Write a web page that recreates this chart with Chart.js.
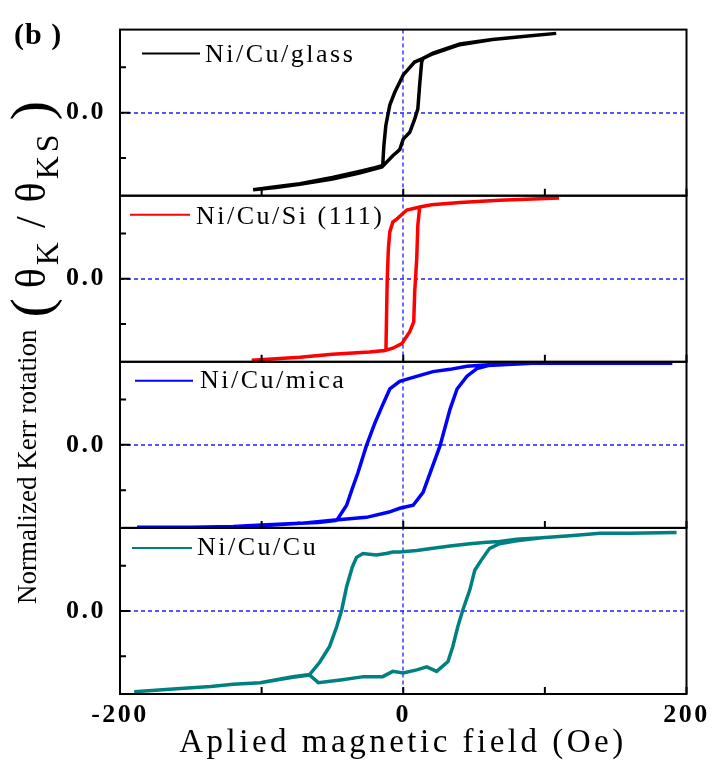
<!DOCTYPE html>
<html>
<head>
<meta charset="utf-8">
<script src="https://cdn.jsdelivr.net/npm/chart.js@4.4.1/dist/chart.umd.min.js"></script>
<style>
html, body { margin: 0; padding: 0; background: #fff; }
#wrap { width: 712px; height: 762px; }
</style>
</head>
<body>
<div id="wrap"><canvas id="kerr-chart" width="712" height="762"></canvas></div>
<script>
var glassField = [108, 90, 63, 40, 21, 14, 8, 0, -6, -9.5, -12.3, -13.7, -14.5, -20, -31, -50, -73, -90, -106,
    -90, -73, -50, -31, -15, -7.4, -2.5, 0, 4.6, 8, 10.3, 11.6, 13, 14, 21, 40, 63, 90, 108];
var glassKerr = [1.05, 1.02, 0.97, 0.90, 0.78, 0.72, 0.67, 0.50, 0.27, 0.10, -0.17, -0.44, -0.70, -0.73, -0.78, -0.86, -0.94, -0.98, -1.02,
    -0.99, -0.95, -0.88, -0.80, -0.72, -0.57, -0.49, -0.35, -0.26, -0.09, 0.05, 0.37, 0.67, 0.72, 0.79, 0.91, 0.97, 1.02, 1.05];

var siField = [110, 68, 40, 20, 11.6, 2.5, -4.6, -7.4, -9.5, -10.5, -11.3, -11.8, -12.2, -13, -24, -50, -73, -107,
    -73, -50, -24, -13, -7.4, -1, 4.6, 7.4, 8.1, 9.5, 10.3, 11.6, 20, 40, 68, 110];
var siKerr = [1.07, 1.04, 1.01, 0.98, 0.95, 0.91, 0.79, 0.75, 0.62, 0.40, 0.0, -0.50, -0.93, -0.95, -0.97, -1.0, -1.04, -1.08,
    -1.04, -1.0, -0.97, -0.95, -0.92, -0.86, -0.70, -0.57, -0.17, 0.26, 0.71, 0.95, 0.98, 1.01, 1.04, 1.07];

var micaField = [190, 160, 130, 91, 60, 45, 33, 21, 10, -2.5, -9.5, -15, -20, -26, -32, -36, -40, -47, -60, -73, -100, -120, -150, -188,
    -150, -120, -100, -73, -50, -26, -10, -2.5, 7, 14, 19, 26, 33, 38, 45, 52, 60, 91, 130, 160, 190];
var micaKerr = [1.08, 1.08, 1.08, 1.08, 1.06, 1.04, 1.00, 0.97, 0.91, 0.84, 0.74, 0.51, 0.29, -0.01, -0.37, -0.58, -0.80, -1.0, -1.03, -1.04, -1.06, -1.08, -1.09, -1.09,
    -1.09, -1.08, -1.07, -1.04, -1.0, -0.96, -0.89, -0.84, -0.80, -0.63, -0.37, -0.01, 0.47, 0.74, 0.91, 1.01, 1.05, 1.08, 1.08, 1.08, 1.08];

var cuField = [193, 160, 139, 120, 98, 80, 68, 59, 47, 33, 21, 9.5, -2.5, -7.4, -12, -19, -28.5, -33, -36, -40, -43.5, -47, -52, -59, -66, -78, -101, -120, -136, -160, -190,
    -160, -136, -120, -101, -78, -66, -60, -43, -28, -14.5, -7.4, 0, 9.5, 16.6, 23.6, 31.6, 35, 38.5, 42, 47, 50.5, 55, 61, 68, 80, 98, 120, 139, 160, 193];
var cuKerr = [1.04, 1.03, 1.03, 1.0, 0.97, 0.95, 0.92, 0.91, 0.89, 0.86, 0.83, 0.80, 0.78, 0.78, 0.76, 0.74, 0.76, 0.71, 0.58, 0.32, 0.01, -0.21, -0.47, -0.68, -0.84, -0.87, -0.95, -0.97, -1.0, -1.03, -1.07,
    -1.03, -1.0, -0.97, -0.95, -0.88, -0.85, -0.95, -0.91, -0.87, -0.87, -0.80, -0.82, -0.78, -0.74, -0.80, -0.67, -0.47, -0.21, 0.01, 0.28, 0.54, 0.67, 0.83, 0.89, 0.93, 0.97, 1.0, 1.03, 1.03, 1.04];

var sampleLabels = ['Ni/Cu/glass', 'Ni/Cu/Si (111)', 'Ni/Cu/mica', 'Ni/Cu/Cu'];
var sampleColors = ['#000000', '#ff0000', '#0000ff', '#008080'];

var xTicks = [-200, -100, 0, 100, 200];
var xTickLabels = ['-200', '', '0', '', '200'];
var yTicks = [-0.6, 0, 0.6];
var yTickLabels = ['', '0.0', ''];

var SERIF = '"Liberation Serif", "Times New Roman", serif';
var panelIds = ['y1', 'y2', 'y3', 'y4'];
var loops = [[glassField, glassKerr], [siField, siKerr], [micaField, micaKerr], [cuField, cuKerr]];

// legend spot inside each panel (offsets from the panel top)
var legendPos = [
    { x1: 142, x2: 200, ly: 24, tx: 205, ty: 32 },
    { x1: 130, x2: 190, ly: 19, tx: 196, ty: 28 },
    { x1: 135, x2: 193, ly: 19, tx: 200, ty: 26 },
    { x1: 132, x2: 192, ly: 20, tx: 197, ty: 27 }
];

function toPoints(xs, ys) {
    var pts = [];
    for (var i = 0; i < xs.length; i++) {
        pts.push({ x: xs[i], y: ys[i] });
    }
    return pts;
}

var datasets = [];
loops.forEach(function (loop, i) {
    datasets.push({
        label: sampleLabels[i],
        data: toPoints(loop[0], loop[1]),
        yAxisID: panelIds[i],
        xAxisID: 'x',
        showLine: true,
        borderColor: sampleColors[i],
        backgroundColor: sampleColors[i],
        borderWidth: 3.5,
        pointRadius: 0,
        tension: 0
    });
});

function makeYAxis() {
    return {
        type: 'linear',
        position: 'left',
        stack: 'panels',
        stackWeight: 1,
        min: -1.1,
        max: 1.1,
        afterBuildTicks: function (axis) {
            axis.ticks = yTicks.map(function (v) { return { value: v }; });
        },
        afterFit: function (axis) { axis.width = 120; },
        grid: { display: false, drawTicks: false },
        border: { display: false },
        ticks: {
            padding: 14,
            color: '#000',
            font: { family: SERIF, size: 26, weight: 'bold' },
            callback: function (value) { return yTickLabels[yTicks.indexOf(value)] || ''; }
        }
    };
}

var scales = {
    x: {
        type: 'linear',
        position: 'bottom',
        min: -200,
        max: 200,
        afterBuildTicks: function (axis) {
            axis.ticks = xTicks.map(function (v) { return { value: v }; });
        },
        afterFit: function (axis) { axis.height = 68; },
        grid: { display: false, drawTicks: false },
        border: { display: false },
        ticks: {
            padding: 6,
            maxRotation: 0,
            autoSkip: false,
            color: '#000',
            font: { family: SERIF, size: 26, weight: 'bold' },
            callback: function (value) { return xTickLabels[xTicks.indexOf(value)] || ''; }
        }
    }
};
// stacked axes are laid out bottom-up, so add the lowest panel first
for (var p = panelIds.length - 1; p >= 0; p--) {
    scales[panelIds[p]] = makeYAxis();
}

function drawYTitle(ctx) {
    var parts = [
        { t: 'Normalized Kerr rotation', size: 27, dy: 0, gap: 12, sp: 0 },
        { t: '(', size: 58, dy: 14, gap: 10, sp: 0 },
        { t: '\u03b8', size: 42, dy: 9, gap: 3, sp: 0 },
        { t: 'K', size: 32, dy: 22, gap: 14, sp: 0 },
        { t: '/', size: 42, dy: 9, gap: 14, sp: 0 },
        { t: '\u03b8', size: 42, dy: 9, gap: 3, sp: 0 },
        { t: 'KS', size: 32, dy: 22, gap: 10, sp: 4 },
        { t: ')', size: 58, dy: 14, gap: 0, sp: 0 }
    ];
    ctx.save();
    ctx.translate(36, 604);
    ctx.rotate(-Math.PI / 2);
    ctx.fillStyle = '#000';
    ctx.textAlign = 'left';
    ctx.textBaseline = 'alphabetic';
    var x = 0;
    parts.forEach(function (p) {
        ctx.font = p.size + 'px ' + SERIF;
        ctx.letterSpacing = p.sp + 'px';
        ctx.fillText(p.t, x, p.dy);
        x += ctx.measureText(p.t).width + p.gap;
    });
    ctx.restore();
}

var panelPlugin = {
    id: 'panels',
    beforeDraw: function (chart) {
        chart.ctx.letterSpacing = '2.5px';
    },
    beforeDatasetsDraw: function (chart) {
        var ctx = chart.ctx;
        var area = chart.chartArea;
        var x0 = Math.round(chart.scales.x.getPixelForValue(0));
        ctx.save();
        ctx.strokeStyle = '#1f1fff';
        ctx.lineWidth = 1.3;
        ctx.setLineDash([4, 3]);
        ctx.beginPath();
        ctx.moveTo(x0, area.top);
        ctx.lineTo(x0, area.bottom);
        ctx.stroke();
        panelIds.forEach(function (id) {
            var y = Math.round(chart.scales[id].getPixelForValue(0));
            ctx.beginPath();
            ctx.moveTo(area.left, y);
            ctx.lineTo(area.right, y);
            ctx.stroke();
        });
        ctx.restore();
    },
    afterDatasetsDraw: function (chart) {
        var ctx = chart.ctx;
        var area = chart.chartArea;
        var xs = chart.scales.x;
        ctx.save();
        ctx.strokeStyle = '#000';
        ctx.lineWidth = 2;
        ctx.setLineDash([]);
        panelIds.forEach(function (id, i) {
            var s = chart.scales[id];
            ctx.strokeRect(area.left, s.top, area.right - area.left, s.bottom - s.top);
            ctx.beginPath();
            yTicks.forEach(function (v) {
                var y = s.getPixelForValue(v);
                ctx.moveTo(area.left, y);
                ctx.lineTo(area.left + (v === 0 ? 10 : 6), y);
            });
            xTicks.forEach(function (v) {
                var x = xs.getPixelForValue(v);
                ctx.moveTo(x, s.bottom);
                ctx.lineTo(x, s.bottom - 7);
            });
            ctx.stroke();

            // legend entry
            var lp = legendPos[i];
            ctx.save();
            ctx.strokeStyle = sampleColors[i];
            ctx.lineWidth = 2;
            ctx.beginPath();
            ctx.moveTo(lp.x1, s.top + lp.ly);
            ctx.lineTo(lp.x2, s.top + lp.ly);
            ctx.stroke();
            ctx.fillStyle = '#000';
            ctx.font = '26px ' + SERIF;
            ctx.letterSpacing = '2.5px';
            ctx.textAlign = 'left';
            ctx.textBaseline = 'alphabetic';
            ctx.fillText(sampleLabels[i], lp.tx, s.top + lp.ty);
            ctx.restore();
        });
        ctx.restore();
    },
    afterDraw: function (chart) {
        var ctx = chart.ctx;
        ctx.save();
        ctx.fillStyle = '#000';
        ctx.textBaseline = 'alphabetic';

        ctx.font = 'bold 30px ' + SERIF;
        ctx.letterSpacing = '1px';
        ctx.textAlign = 'left';
        ctx.fillText('(b )', 14, 44);

        ctx.font = '33px ' + SERIF;
        ctx.letterSpacing = '3.5px';
        ctx.textAlign = 'center';
        ctx.fillText('Aplied magnetic field (Oe)', 403, 752);
        ctx.restore();

        drawYTitle(ctx);
        ctx.letterSpacing = '0px';
    }
};

var KerrChart = new Chart(document.getElementById('kerr-chart'), {
    type: 'scatter',
    data: { datasets: datasets },
    plugins: [panelPlugin],
    options: {
        responsive: false,
        animation: false,
        devicePixelRatio: 1,
        layout: { padding: { top: 28, right: 25, left: 0, bottom: 0 } },
        plugins: {
            legend: { display: false },
            tooltip: { enabled: false }
        },
        scales: scales
    }
});
</script>
</body>
</html>
